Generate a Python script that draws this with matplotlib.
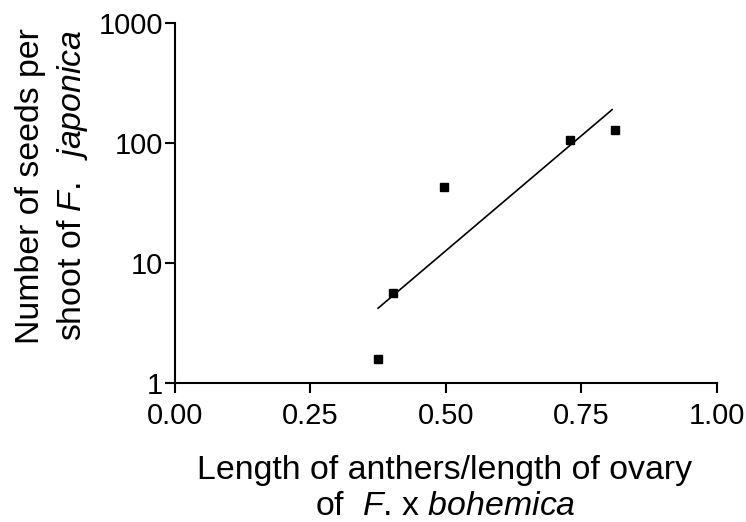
import numpy as np
import matplotlib
matplotlib.use("Agg")
import matplotlib.pyplot as plt

plt.rcParams['font.family'] = ['Liberation Sans', 'DejaVu Sans']
plt.rcParams['mathtext.fontset'] = 'custom'
plt.rcParams['mathtext.rm'] = 'Liberation Sans'
plt.rcParams['mathtext.it'] = 'Liberation Sans:italic'

# anther/ovary length ratio vs seeds per shoot
ratio = [0.375, 0.403, 0.497, 0.729, 0.812]
seeds = [1.6, 5.7, 43.5, 106, 129]

xticks = [0.0, 0.25, 0.5, 0.75, 1.0]
xticklabels = ['0.00', '0.25', '0.50', '0.75', '1.00']
yticks = [1, 10, 100, 1000]
yticklabels = ['1', '10', '100', '1000']

W, H = 746, 522
fig = plt.figure(figsize=(W / 100, H / 100), dpi=100)
ax = fig.add_axes([0.2346, 0.2657, 0.7261, 0.6897])

ax.plot(ratio, seeds, 's', color='black', markersize=5.8, zorder=3)

# log-linear regression line over the data range
x = np.array(ratio)
slope, icpt = np.polyfit(x, np.log10(seeds), 1)
xf = np.array([x.min(), x.max() - 0.005])
ax.plot(xf, 10 ** (slope * xf + icpt), color='black', lw=1.2)

ax.set_yscale('log')
ax.set_xlim(0, 1)
ax.set_ylim(1, 1000)
ax.set_xticks(xticks)
ax.set_xticklabels(xticklabels)
ax.set_yticks(yticks)
ax.set_yticklabels(yticklabels)
ax.yaxis.set_minor_locator(matplotlib.ticker.NullLocator())

for s in ['top', 'right']:
    ax.spines[s].set_visible(False)
for s in ['left', 'bottom']:
    ax.spines[s].set_linewidth(1.5)
ax.tick_params(axis='both', length=7.2, width=1.5, labelsize=21)
ax.tick_params(axis='x', pad=6)
ax.tick_params(axis='y', pad=1.5)

# axis titles, each line placed on its own
xl = dict(fontsize=24.4, ha='center', va='baseline')
fig.text(445 / W, 1 - 479 / H, 'Length of anthers/length of ovary', **xl)
fig.text(445 / W, 1 - 515 / H, 'of  $\\mathit{F}$. x $\\mathit{bohemica}$', **xl)

yl = dict(fontsize=24.4, ha='center', va='baseline', rotation=90, rotation_mode='anchor')
fig.text(39 / W, 1 - 186 / H, 'Number of seeds per', **yl)
fig.text(81 / W, 1 - 185 / H, 'shoot of $\\mathit{F.\\ \\ japonica}$', **yl)

fig.savefig('out.png', dpi=100)
